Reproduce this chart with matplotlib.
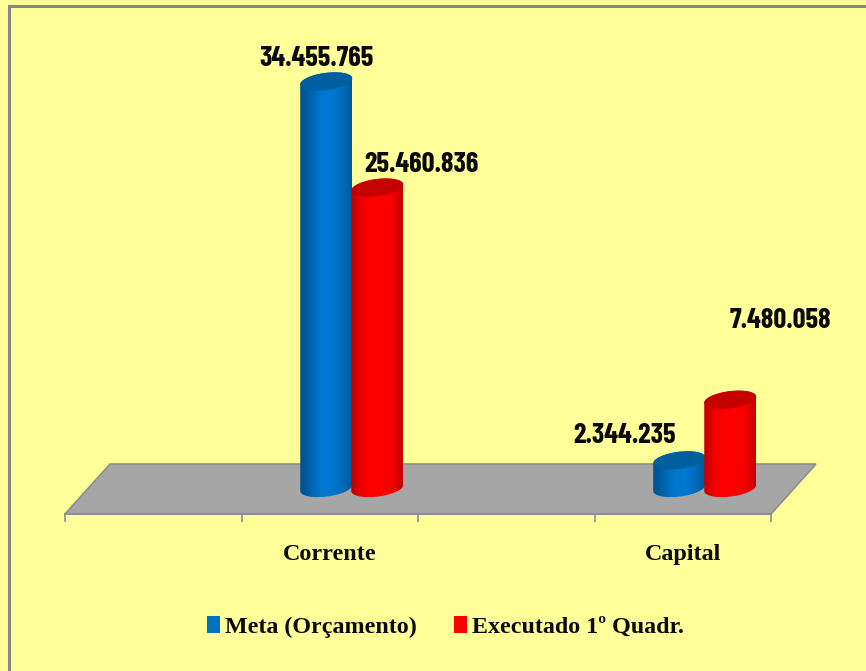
import numpy as np
from matplotlib import pyplot as plt
from matplotlib.colors import LinearSegmentedColormap
from matplotlib.patches import PathPatch, Patch, Rectangle
from matplotlib.path import Path

categories = ['', 'Corrente', '', 'Capital']
positions = [1, 3]
meta = [34455765, 2344235]
executado = [25460836, 7480058]
labels_meta = ['34.455.765', '2.344.235']
labels_exec = ['25.460.836', '7.480.058']
series_names = ['Meta (Orçamento)', 'Executado 1º Quadr.']

# pixels per unit, the axes are placed on the pixel grid of the reference
PX_X = 176.5
PX_Y = 11.8e-6
BASE_PX = 26   # from the floor front edge up to the bar base centre

BG = '#FFFF99'
FRAME = '#868686'
FLOOR = '#A6A6A6'
FLOOR_EDGE = '#8E8E8E'

blue_cmap = LinearSegmentedColormap.from_list('b', ['#00508C', '#0064AC', '#0076CC', '#0078D2', '#006EBC', '#005A9C'])
red_cmap = LinearSegmentedColormap.from_list('r', ['#BE0000', '#F00000', '#FF0000', '#FF0000', '#F40000', '#C40000'])

fig = plt.figure(figsize=(8.66, 6.71), dpi=100, facecolor=BG)
ax = fig.add_axes([65 / 866, 1 - 514 / 671, (771 - 65) / 866, (514 - 40) / 671])
ax.patch.set_visible(False)
ax.set_xlim(-0.5, 3.5)
ax.set_ylim(-BASE_PX / PX_Y, (488 - 40) / PX_Y)

# chart frame, only top and left show in the picture
fig.add_artist(Rectangle((9 / 866, -0.05), 1.1, 1 - 6 / 671 + 0.05, transform=fig.transFigure,
    facecolor='none', edgecolor=FRAME, linewidth=2.2))


def dx(px):
    return px / PX_X


def dy(px):
    return px / PX_Y


def floor():
    y0 = ax.get_ylim()[0]
    xs = [-0.5, 3.5, 3.5 + dx(45), -0.5 + dx(45)]
    ys = [y0, y0, y0 + dy(50), y0 + dy(50)]
    ax.fill(xs, ys, facecolor=FLOOR, edgecolor=FLOOR_EDGE, linewidth=1.2, clip_on=False, zorder=1)


def ring(x, y, t):
    # tilted ellipse seen from above, the right end sits higher
    a, b, k = 26, 8.6, 3
    return x + dx(a) * np.cos(t), y + dy(b) * np.sin(t) + dy(k) * np.cos(t)


def cylinder(x, value, cmap, cap_color, z):
    lower = np.linspace(np.pi, 2 * np.pi, 50)
    upper = np.linspace(0, np.pi, 50)
    bx, by = ring(x, 0, lower)
    tx, ty = ring(x, value, upper)
    body = np.column_stack([np.r_[bx, tx], np.r_[by, ty]])
    patch = PathPatch(Path(np.vstack([body, body[0]]), closed=True), facecolor='none', edgecolor='none', zorder=z)
    ax.add_patch(patch)
    im = ax.imshow(np.linspace(0, 1, 128).reshape(1, -1), cmap=cmap, aspect='auto', zorder=z,
        extent=[x - dx(26), x + dx(26), -dy(12), value + dy(12)])
    im.set_clip_path(patch)
    cx, cy = ring(x, value, np.linspace(0, 2 * np.pi, 100))
    ax.fill(cx, cy, facecolor=cap_color, edgecolor='none', zorder=z + 0.1)


floor()
for i, p in enumerate(positions):
    x = p + dx(22)
    cylinder(x - dx(25.5), meta[i], blue_cmap, '#00609F', 3)
    cylinder(x + dx(25.5), executado[i], red_cmap, '#C40000', 4)
ax.set_xlim(-0.5, 3.5)
ax.set_ylim(-BASE_PX / PX_Y, (488 - 40) / PX_Y)

# value labels sit off the bars by hand, same as in the original
offs_meta = [(-9.5, 23), (-55, 25)]
offs_exec = [(44, 23), (50, 79)]
label_font = dict(family=['Barlow Condensed', 'Liberation Sans'], fontweight='bold', fontsize=20.5, color='#0A0A0A',
    ha='center', va='center', textcoords='offset pixels', zorder=6, annotation_clip=False)
for i, p in enumerate(positions):
    x = p + dx(22)
    ax.annotate(labels_meta[i], (x - dx(25.5), meta[i]), xytext=offs_meta[i], **label_font)
    ax.annotate(labels_exec[i], (x + dx(25.5), executado[i]), xytext=offs_exec[i], **label_font)

# axis: ticks between categories, labels on the categories
for s in ['top', 'left', 'right']:
    ax.spines[s].set_visible(False)
ax.spines['bottom'].set_color(FLOOR_EDGE)
ax.spines['bottom'].set_linewidth(1.5)
ax.spines['bottom'].set_zorder(2)
ax.set_yticks([])
ax.set_xticks(np.arange(-0.5, 4))
ax.set_xticklabels([])
ax.tick_params(axis='x', which='major', length=6, width=1.2, color=FLOOR_EDGE)
ax.set_xticks(range(len(categories)), labels=categories, minor=True)
ax.tick_params(axis='x', which='minor', length=0, pad=21.5)
for t in ax.get_xticklabels(minor=True):
    t.set_fontfamily('Liberation Serif')
    t.set_fontweight('bold')
    t.set_fontsize(17.4)
    t.set_color('#0A0A0A')

handles = [Patch(facecolor='#0070C0', label=series_names[0]), Patch(facecolor='#FF0000', label=series_names[1])]
fig.legend(handles=handles, loc='center', bbox_to_anchor=(445.5 / 866, 1 - 627 / 671), ncol=2, frameon=False,
    prop={'family': 'Liberation Serif', 'weight': 'bold', 'size': 17.3},
    handlelength=0.54, handleheight=0.7, handletextpad=0.2, columnspacing=1.58, labelcolor='#0A0A0A')

fig.savefig('out.png', dpi=100, facecolor=BG)
